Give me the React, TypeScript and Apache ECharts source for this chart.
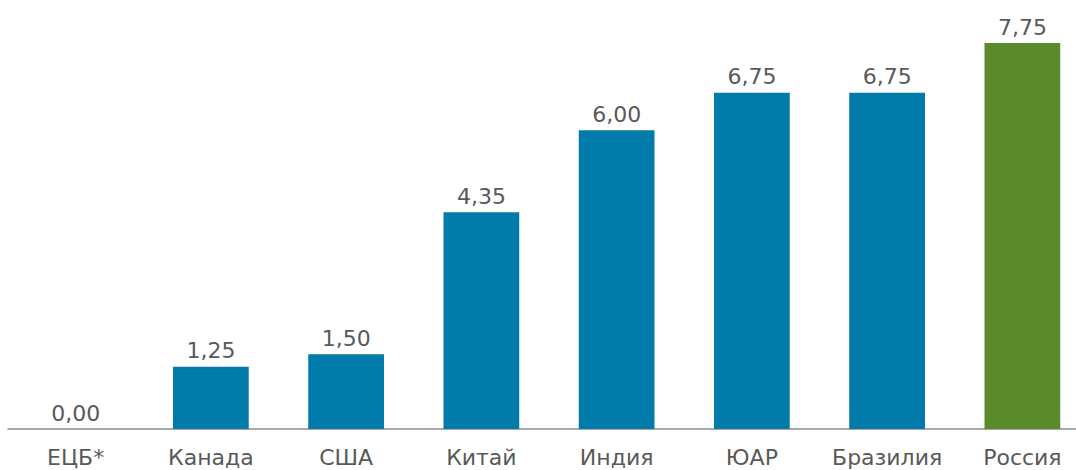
import React, { useEffect, useRef } from "react";
import * as echarts from "echarts";

const categories = ["ЕЦБ*", "Канада", "США", "Китай", "Индия", "ЮАР", "Бразилия", "Россия"];
const values = [0.0, 1.25, 1.5, 4.35, 6.0, 6.75, 6.75, 7.75];
const barColors = ["#007BAA", "#007BAA", "#007BAA", "#007BAA", "#007BAA", "#007BAA", "#007BAA", "#5B8A2B"];

export default function App() {
  const ref = useRef<HTMLDivElement>(null);
  useEffect(() => {
    document.body.style.margin = "0";
    document.body.style.overflow = "hidden";
    const chart = echarts.init(ref.current!, undefined, { renderer: "svg" });
    chart.setOption({
      animation: false,
      grid: { left: 8, right: 2, top: 30.6, bottom: 41, containLabel: false },
      xAxis: {
        type: "category",
        data: categories,
        axisLine: { show: true, lineStyle: { color: "#8C8C8C", width: 1.5 } },
        axisTick: { show: false },
        axisLabel: {
          color: "#595959",
          fontFamily: "DejaVu Sans",
          fontSize: 22,
          margin: 17,
          interval: 0,
        },
      },
      yAxis: {
        type: "value",
        min: 0,
        max: 8,
        show: false,
        splitLine: { show: false },
      },
      series: [
        {
          type: "bar",
          barCategoryGap: "44%",
          data: values.map((v, i) => ({ value: v, itemStyle: { color: barColors[i] } })),
          label: {
            show: true,
            position: "top",
            distance: 5,
            color: "#595959",
            fontFamily: "DejaVu Sans",
            fontSize: 22,
            formatter: (p: any) => Number(p.value).toFixed(2).replace(".", ","),
          },
        },
      ],
    });
    return () => chart.dispose();
  }, []);
  return <div ref={ref} style={{ width: 1092, height: 470 }} />;
}
